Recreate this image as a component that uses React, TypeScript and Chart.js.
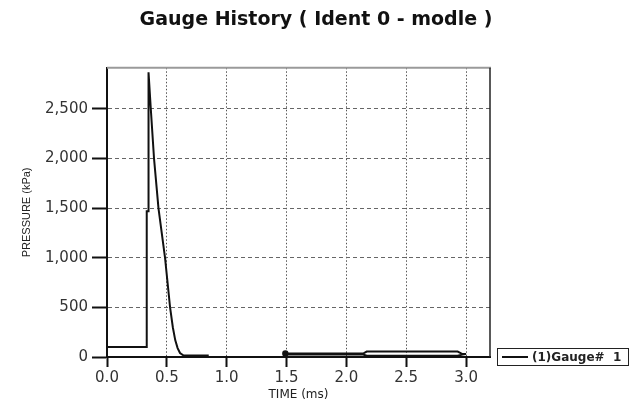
import { useEffect, useRef } from "react";
import { Chart, registerables } from "chart.js";

Chart.register(...registerables);

const chartTitle = "Gauge History ( Ident 0 - modle )";
const seriesLabel = "(1)Gauge#  1";
const xAxisTitle = "TIME (ms)";
const yAxisTitle = "PRESSURE (kPa)";

// gauge trace (time in ms, pressure in kPa); null = gap in the record
const timeMs = [
  0, 0.33, 0.332, 0.345, 0.347, 0.366, 0.393, 0.43, 0.485, 0.527, 0.55, 0.57,
  0.59, 0.61, 0.64, 0.85, 1.0,
  1.49, 2.14, 2.17, 2.93, 2.97, 3.0, 2.97, 2.93, 2.17, 2.14, 1.49,
];
const pressureKpa = [
  100, 100, 1470, 1470, 2870, 2500, 2000, 1500, 1000, 500, 300, 170,
  90, 40, 15, 15, null,
  35, 35, 55, 55, 30, 30, 25, 12, 12, 25, 25,
];
const markerIndex = 17;

const xTickValues = [0, 0.5, 1.0, 1.5, 2.0, 2.5, 3.0];
const yTickValues = [0, 500, 1000, 1500, 2000, 2500];
const xMin = 0;
const xMax = 3.2;
const yMin = 0;
const yMax = 2915;

const FONT = "'DejaVu Sans', sans-serif";

export default function App() {
  const ref = useRef<HTMLCanvasElement | null>(null);

  useEffect(() => {
    if (!ref.current) return;
    const points = timeMs.map((t, i) => ({ x: t, y: pressureKpa[i] as number }));

    const framePlugin = {
      id: "frame",
      beforeDatasetsDraw(chart: any) {
        const { ctx, chartArea } = chart;
        const { left, right, top, bottom } = chartArea;
        ctx.save();
        ctx.strokeStyle = "#9a9a9a";
        ctx.lineWidth = 2;
        ctx.beginPath();
        ctx.moveTo(left, top);
        ctx.lineTo(right + 1, top);
        ctx.stroke();
        ctx.strokeStyle = "#222";
        ctx.lineWidth = 1.5;
        ctx.beginPath();
        ctx.moveTo(right, top);
        ctx.lineTo(right, bottom);
        ctx.stroke();
        ctx.restore();
      },
    };

    const legendPlugin = {
      id: "boxLegend",
      afterDraw(chart: any) {
        const { ctx, chartArea } = chart;
        const ds = chart.data.datasets[0];
        const x = chartArea.right + 7;
        const y = chartArea.bottom - 9;
        const w = 131;
        const h = 17;
        ctx.save();
        ctx.strokeStyle = "#222";
        ctx.lineWidth = 1;
        ctx.strokeRect(x + 0.5, y + 0.5, w, h);
        ctx.strokeStyle = ds.borderColor;
        ctx.lineWidth = 2;
        ctx.beginPath();
        ctx.moveTo(x + 5, y + h / 2 + 0.5);
        ctx.lineTo(x + 31, y + h / 2 + 0.5);
        ctx.stroke();
        ctx.fillStyle = "#222";
        ctx.font = `bold 12px ${FONT}`;
        ctx.textBaseline = "middle";
        ctx.textAlign = "left";
        ctx.fillText(ds.label, x + 35, y + h / 2 + 1);
        ctx.restore();
      },
    };

    const chart = new Chart(ref.current, {
      type: "scatter",
      data: {
        datasets: [
          {
            label: seriesLabel,
            data: points,
            showLine: true,
            spanGaps: false,
            borderColor: "#111",
            backgroundColor: "#111",
            borderWidth: 2,
            tension: 0,
            pointRadius: (c: any) => (c.dataIndex === markerIndex ? 2.2 : 0),
            pointHoverRadius: 0,
          },
        ],
      },
      options: {
        responsive: false,
        animation: false,
        layout: { padding: 0 },
        plugins: {
          legend: { display: false },
          tooltip: { enabled: false },
          title: {
            display: true,
            text: chartTitle,
            color: "#111",
            font: { family: FONT, size: 19, weight: "bold", lineHeight: 1.2 },
            padding: { top: 9, bottom: 36 },
          },
        },
        scales: {
          x: {
            type: "linear",
            min: xMin,
            max: xMax,
            afterFit: (s: any) => {
              s.height = 44;
            },
            afterBuildTicks: (s: any) => {
              s.ticks = xTickValues.map((v) => ({ value: v }));
            },
            ticks: {
              padding: 2,
              color: "#333",
              font: { family: FONT, size: 15 },
              callback: (v: any) => Number(v).toFixed(1),
            },
            grid: {
              color: "#555",
              lineWidth: 1,
              drawTicks: true,
              tickLength: 10,
              tickColor: "#111",
              tickWidth: 2,
            },
            border: { display: true, color: "#111", width: 2, dash: [1.5, 2] },
            title: {
              display: true,
              text: xAxisTitle,
              color: "#222",
              font: { family: FONT, size: 12, lineHeight: 1 },
              padding: { top: 0, bottom: 0 },
            },
          },
          y: {
            type: "linear",
            min: yMin,
            max: yMax,
            afterFit: (s: any) => {
              s.width = 107;
            },
            afterBuildTicks: (s: any) => {
              s.ticks = yTickValues.map((v) => ({ value: v }));
            },
            ticks: {
              padding: 4,
              color: "#333",
              font: { family: FONT, size: 15 },
              callback: (v: any) => Number(v).toLocaleString("en-US"),
            },
            grid: {
              color: "#666",
              lineWidth: 1,
              drawTicks: true,
              tickLength: 15,
              tickColor: "#111",
              tickWidth: 2,
            },
            border: { display: true, color: "#111", width: 2, dash: [4, 3] },
            title: {
              display: true,
              text: yAxisTitle,
              color: "#222",
              font: { family: "'Liberation Sans', sans-serif", size: 11, lineHeight: 1.2 },
              padding: { top: 20, bottom: 0 },
            },
          },
          legendSpace: {
            type: "linear",
            position: "right",
            display: true,
            afterFit: (s: any) => {
              s.width = 142;
            },
            ticks: { display: false },
            grid: { display: false, drawTicks: false },
            border: { display: false },
          },
        },
      },
      plugins: [framePlugin, legendPlugin],
    } as any);

    return () => chart.destroy();
  }, []);

  return (
    <div style={{ position: "absolute", left: 0, top: 0, width: 632, height: 401, background: "#fff" }}>
      <canvas ref={ref} width={632} height={401} />
    </div>
  );
}
